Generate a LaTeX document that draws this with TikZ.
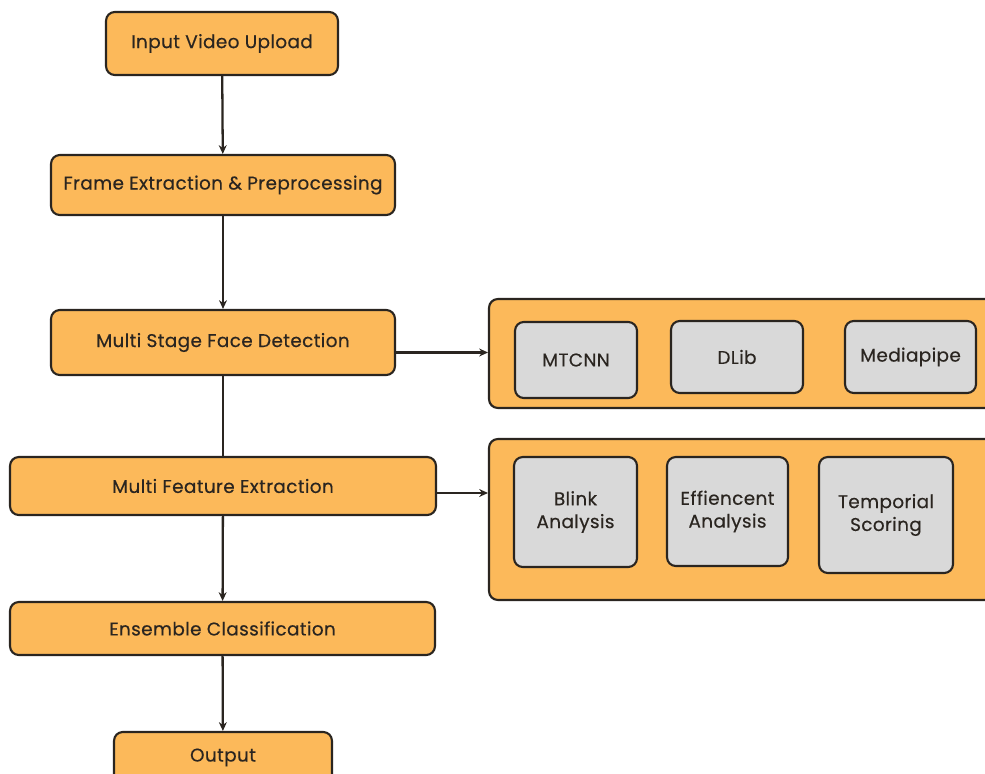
\documentclass[tikz,border=0pt]{standalone}
\usepackage{fontspec}
\setmainfont{Poppins}[FakeBold=0.35, LetterSpace=2]
\usepackage{tikz}
\usetikzlibrary{arrows.meta}
\definecolor{boxorange}{HTML}{FCB95A}
\definecolor{boxgray}{HTML}{D9D9D9}
\definecolor{ink}{HTML}{2A2520}

\begin{document}
\begin{tikzpicture}[x=0.02cm, y=-0.02cm,
    stepbox/.style={draw=ink, line width=1.2pt, fill=boxorange, rounded corners=5pt, inner sep=0pt, text=ink, font=\fontsize{10.5}{13}\selectfont, align=center},
    toolbox/.style={stepbox, fill=boxgray},
    groupbox/.style={draw=ink, line width=1.2pt, fill=boxorange, rounded corners=5pt, inner sep=0pt},
    link/.style={ink, line width=1.3pt},
    >={Stealth[length=5pt,width=4.5pt]}]
  \clip (0,0) rectangle (985,774);
  \fill[white] (0,0) rectangle (985,774);
  % main pipeline
  \node[stepbox, minimum width=4.64cm, minimum height=1.26cm] (upload) at (222,43.5) {Input Video Upload};
  \node[stepbox, minimum width=6.88cm, minimum height=1.2cm] (frames) at (223,185) {Frame Extraction \& Preprocessing};
  \node[stepbox, minimum width=6.88cm, minimum height=1.3cm] (stage) at (223,342.5) {Multi Stage Face Detection};
  \node[stepbox, minimum width=8.52cm, minimum height=1.16cm] (feature) at (223,486) {Multi Feature Extraction};
  \node[stepbox, minimum width=8.5cm, minimum height=1.06cm] (ensemble) at (222.5,628.5) {Ensemble Classification};
  \node[stepbox, minimum width=4.36cm, minimum height=1.2cm] (output) at (223,762) {\raisebox{0.28cm}{Output}};
  % side groups
  \node[groupbox, minimum width=10.22cm, minimum height=2.18cm] (detect) at (744.5,353.5) {};
  \node[groupbox, minimum width=10.22cm, minimum height=3.22cm] (extract) at (744.5,519.5) {};
  \node[toolbox, minimum width=2.44cm, minimum height=1.52cm] (mtcnn) at (576,360) {MTCNN};
  \node[toolbox, minimum width=2.64cm, minimum height=1.44cm] (dlib) at (737,357) {DLib};
  \node[toolbox, minimum width=2.62cm, minimum height=1.44cm] (mediapipe) at (910.5,357) {Mediapipe};
  \node[toolbox, minimum width=2.46cm, minimum height=2.2cm] (blink) at (575.5,512) {Blink\\Analysis};
  \node[toolbox, minimum width=2.42cm, minimum height=2.18cm] (effi) at (727.5,511.5) {Effiencent\\Analysis};
  \node[toolbox, minimum width=2.68cm, minimum height=2.32cm] (temporal) at (886,515) {Temporial\\Scoring};
  % connectors
  \draw[->, link] (upload) -- (frames);
  \draw[->, link] (frames) -- (stage);
  \draw[link] (stage) -- (feature);
  \draw[->, link] (feature) -- (ensemble);
  \draw[->, link] (ensemble) -- (output);
  \draw[->, link] ([yshift=-0.2cm]stage.east) -- ([yshift=-0.2cm]stage.east -| detect.west);
  \draw[->, link] ([yshift=-0.14cm]feature.east) -- ([yshift=-0.14cm]feature.east -| extract.west);
\end{tikzpicture}
\end{document}
